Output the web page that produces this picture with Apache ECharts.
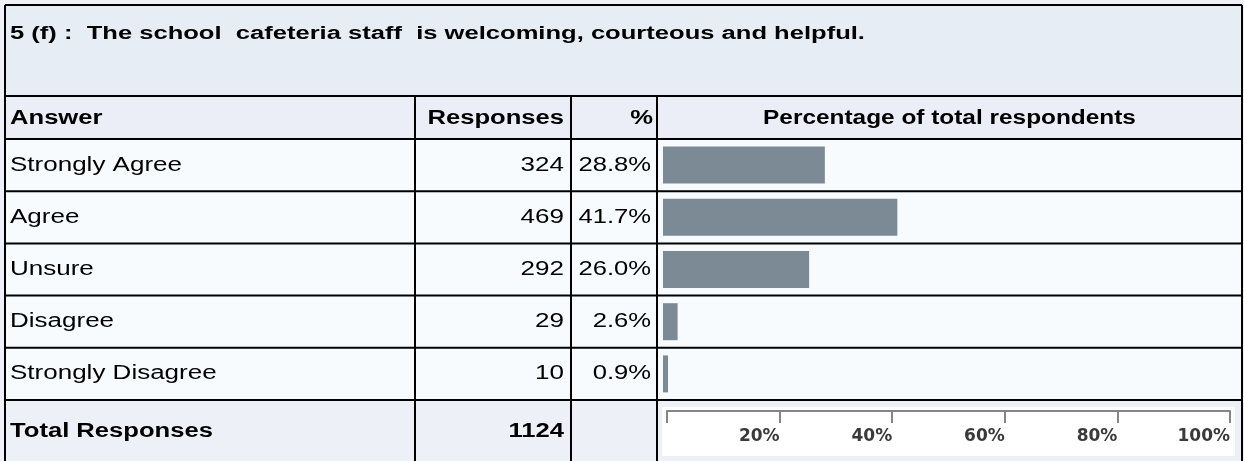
<!DOCTYPE html>
<html>
<head>
<meta charset="utf-8">
<script src="https://cdn.jsdelivr.net/npm/echarts@6/dist/echarts.min.js"></script>
<style>
  html, body { margin: 0; padding: 0; background: #eef1f8; }
  #chart { width: 1244px; height: 461px; }
</style>
</head>
<body>
<div id="chart"></div>
<script>
// Survey question and answers
const questionTitle = '5 (f) :  The school  cafeteria staff  is welcoming, courteous and helpful.';
const columnHeaders = ['Answer', 'Responses', '%', 'Percentage of total respondents'];
const categories = ['Strongly Agree', 'Agree', 'Unsure', 'Disagree', 'Strongly Disagree'];
const responses = [324, 469, 292, 29, 10];
const percents = [28.8, 41.7, 26.0, 2.6, 0.9];
const totalLabel = 'Total Responses';
const totalResponses = 1124;
const scaleTicks = [0, 20, 40, 60, 80, 100];
const scaleTickLabels = ['', '20%', '40%', '60%', '80%', '100%'];

// Table layout
const L = 5, R = 1242, T = 5, B = 470;
const titleBottom = 96, headerBottom = 139, rowH = 52.2;
const colX = [415, 571, 657];
const rowsBottom = headerBottom + rowH * categories.length;
const FONT = '"Liberation Sans", Arial, sans-serif';

const chart = echarts.init(document.getElementById('chart'), null, { renderer: 'canvas' });

// text drawn slightly widened, anchored at (x, y)
function txt(x, y, s, opt) {
  opt = opt || {};
  return {
    type: 'text', x: x, y: y, scaleX: opt.sx || 1.3, originX: 0, originY: 0, z: 20,
    style: Object.assign({
      x: 0, y: 0, text: s, fill: '#000',
      font: (opt.bold ? 'bold ' : '') + (opt.size || 20) + 'px ' + FONT,
      align: 'left', verticalAlign: 'middle'
    }, opt.style || {})
  };
}
function rect(x, y, w, h, fill, z) {
  return { type: 'rect', shape: { x: x, y: y, width: w, height: h }, style: { fill: fill }, z: z || 0, silent: true };
}
function line(x1, y1, x2, y2) {
  return { type: 'line', shape: { x1: x1, y1: y1, x2: x2, y2: y2 }, style: { stroke: '#000', lineWidth: 2 }, z: 30, silent: true };
}

const g = [];
// cell backgrounds
g.push(rect(L, T, R - L, titleBottom - T, '#e6edf5'));
g.push(rect(L, titleBottom, R - L, headerBottom - titleBottom, '#eceef7'));
g.push(rect(L, headerBottom, R - L, rowsBottom - headerBottom, '#f7fbfe'));
g.push(rect(L, rowsBottom, R - L, B - rowsBottom, '#eef0f8'));
g.push(rect(662, 407, 573, 49, '#ffffff', 1));

// table rules
g.push(line(L, T, R, T));
g.push(line(L, T, L, B));
g.push(line(R, T, R, B));
g.push(line(L, titleBottom, R, titleBottom));
g.push(line(L, headerBottom, R, headerBottom));
categories.forEach(function (c, i) {
  g.push(line(L, headerBottom + rowH * (i + 1), R, headerBottom + rowH * (i + 1)));
});
colX.forEach(function (x) { g.push(line(x, titleBottom, x, B)); });

// title
g.push(txt(10, 34, questionTitle, { bold: true, size: 18, sx: 1.42 }));

// header
const hy = (titleBottom + headerBottom) / 2 + 1;
g.push(txt(10, hy, columnHeaders[0], { bold: true, sx: 1.28 }));
g.push(txt(564, hy, columnHeaders[1], { bold: true, sx: 1.28, style: { align: 'right' } }));
g.push(txt(653, hy, columnHeaders[2], { bold: true, sx: 1.28, style: { align: 'right' } }));
g.push(txt((colX[2] + R) / 2, hy, columnHeaders[3], { bold: true, sx: 1.22, style: { align: 'center' } }));

// answer rows
categories.forEach(function (c, i) {
  const y = headerBottom + rowH * (i + 0.5);
  g.push(txt(10, y, c));
  g.push(txt(564, y, String(responses[i]), { style: { align: 'right' } }));
  g.push(txt(651, y, percents[i].toFixed(1) + '%', { sx: 1.28, style: { align: 'right' } }));
});

// total row
const ty = 431;
g.push(txt(10, ty, totalLabel, { bold: true, sx: 1.28 }));
g.push(txt(564, ty, String(totalResponses), { bold: true, sx: 1.28, style: { align: 'right' } }));

const option = {
  animation: false,
  backgroundColor: '#eef1f8',
  graphic: { elements: g },
  grid: [
    { left: 663, top: headerBottom, width: 562, height: rowH * categories.length, containLabel: false },
    { left: 667, top: 410, width: 563, height: 1, containLabel: false }
  ],
  xAxis: [
    { gridIndex: 0, type: 'value', min: 0, max: 100, show: false },
    {
      gridIndex: 1, type: 'value', min: 0, max: 100, interval: 20, position: 'top', z: 50,
      axisLine: { show: true, lineStyle: { color: '#858585', width: 2 } },
      axisTick: { show: true, inside: true, length: 12, lineStyle: { color: '#858585', width: 2 } },
      splitLine: { show: false },
      axisLabel: {
        inside: true, margin: 27, align: 'right', verticalAlign: 'middle',
        color: '#3a3a3a', fontFamily: 'DejaVu Sans', fontWeight: 'bold', fontSize: 17,
        formatter: function (v) { return scaleTickLabels[scaleTicks.indexOf(v)]; }
      }
    }
  ],
  yAxis: [
    { gridIndex: 0, type: 'category', data: categories, inverse: true, show: false },
    { gridIndex: 1, type: 'value', show: false }
  ],
  series: [{
    type: 'bar', xAxisIndex: 0, yAxisIndex: 0,
    data: percents, barWidth: 37,
    itemStyle: { color: '#7b8a95' }, z: 10
  }]
};
chart.setOption(option);
</script>
</body>
</html>
